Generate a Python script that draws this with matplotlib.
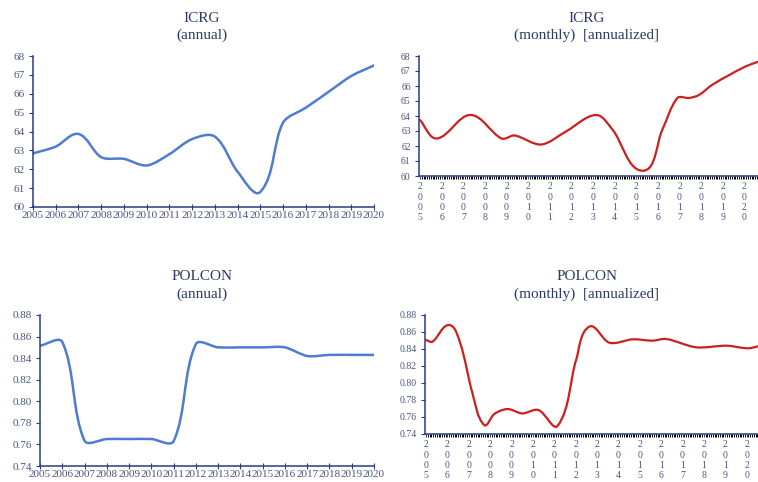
import numpy as np
import matplotlib
matplotlib.use("Agg")
import matplotlib.pyplot as plt
from matplotlib.path import Path
from matplotlib.patches import PathPatch
from matplotlib.ticker import MultipleLocator

plt.rcParams['font.family'] = ['Liberation Serif', 'DejaVu Serif']

# annual series
years = list(range(2005, 2021))
icrg_annual = [62.84, 63.2, 63.87, 62.64, 62.55, 62.2, 62.8, 63.6,
               63.73, 61.87, 60.8, 64.47, 65.26, 66.1, 66.94, 67.5]
polcon_annual = [0.8515, 0.855, 0.7635, 0.765, 0.765, 0.765, 0.763, 0.853,
                 0.850, 0.850, 0.850, 0.850, 0.842, 0.843, 0.843, 0.843]

# monthly (annualized) series, turning points in decimal years
icrg_m_t = [2005.0, 2005.77, 2007.33, 2008.77, 2009.38, 2010.6, 2011.75,
            2013.14, 2013.91, 2015.3, 2016.2, 2016.9, 2017.44, 2017.9,
            2018.5, 2019.3, 2020.05, 2020.6]
icrg_m_v = [63.73, 62.5, 64.07, 62.5, 62.7, 62.1, 62.97,
            64.07, 63.07, 60.35, 63.07, 65.2, 65.2, 65.4,
            66.07, 66.73, 67.3, 67.6]
polcon_m_t = [2005.0, 2005.3, 2006.08, 2006.6, 2007.17, 2007.72, 2008.19,
              2008.81, 2009.5, 2010.26, 2011.16, 2012.02, 2012.64, 2013.58,
              2014.67, 2015.6, 2016.24, 2017.64, 2019.05, 2020.06, 2020.6]
polcon_m_v = [0.8506, 0.8486, 0.8682, 0.8467, 0.788, 0.7506, 0.7635,
              0.7694, 0.7642, 0.7682, 0.7497, 0.827, 0.8663, 0.8474,
              0.8514, 0.8498, 0.8518, 0.842, 0.8439, 0.8408, 0.8435]

NAVY = '#2a3d7c'
TXT = '#2c3a66'
TICK = '#4a5580'
BLUE = '#4f7bd0'
RED = '#cc1f1f'

W, H = 758, 482


def smooth_path(x, y, sx, sy, k=0.3):
    # cubic bezier through the points; tangents are worked out in pixel
    # space and scaled by the chord length of each segment
    pts = np.column_stack([np.asarray(x) * sx, np.asarray(y) * sy]).astype(float)
    n = len(pts)
    tan = []
    for i in range(n):
        a = pts[max(i - 1, 0)]
        b = pts[min(i + 1, n - 1)]
        d = b - a
        tan.append(d / np.hypot(*d))
    verts = [pts[0]]
    codes = [Path.MOVETO]
    for i in range(n - 1):
        seg = np.hypot(*(pts[i + 1] - pts[i]))
        verts += [pts[i] + tan[i] * seg * k,
                  pts[i + 1] - tan[i + 1] * seg * k,
                  pts[i + 1]]
        codes += [Path.CURVE4] * 3
    verts = np.array(verts) / [sx, sy]
    return Path(verts, codes)


def style(ax):
    for s in ['top', 'right']:
        ax.spines[s].set_visible(False)
    for s in ['left', 'bottom']:
        ax.spines[s].set_color(NAVY)
        ax.spines[s].set_linewidth(1.1)
    ax.tick_params(colors=NAVY, labelcolor=TICK)


fig = plt.figure(figsize=(W / 100, H / 100), dpi=100)


def box(l, r, t, b):
    return [l / W, 1 - b / H, (r - l) / W, (b - t) / H]


def scales(ax, xlim, ylim):
    pos = ax.get_position()
    return (pos.width * W / (xlim[1] - xlim[0]),
            pos.height * H / (ylim[1] - ylim[0]))


ax1 = fig.add_axes(box(33, 374, 56, 207))
ax2 = fig.add_axes(box(419, 766, 56, 176))
ax3 = fig.add_axes(box(40, 374, 315, 466))
ax4 = fig.add_axes(box(425, 768, 315, 434))

# annual panels
for ax, vals, ylim, step, fmt in [(ax1, icrg_annual, (60, 68), 1, '{:.0f}'),
                                  (ax3, polcon_annual, (0.74, 0.88), 0.02, '{:.2f}')]:
    xlim = (2005, 2020)
    sx, sy = scales(ax, xlim, ylim)
    ax.add_patch(PathPatch(smooth_path(years, vals, sx, sy), fill=False,
                           edgecolor=BLUE, lw=1.8, capstyle='round'))
    ax.set_xlim(*xlim)
    ax.set_ylim(*ylim)
    ax.set_xticks(years)
    ax.set_xticklabels([str(y) for y in years], fontsize=8)
    ticks = np.arange(ylim[0], ylim[1] + step / 2, step)
    ax.set_yticks(ticks)
    ax.set_yticklabels([fmt.format(t) for t in ticks], fontsize=8)
    style(ax)
    ax.tick_params(axis='x', direction='inout', length=4, width=0.8, pad=1)
    ax.tick_params(axis='y', direction='out', length=3, width=0.8, pad=3)

# monthly panels
for ax, t, vals, ylim, step, fmt in [(ax2, icrg_m_t, icrg_m_v, (60, 68), 1, '{:.0f}'),
                                     (ax4, polcon_m_t, polcon_m_v, (0.74, 0.88), 0.02, '{:.2f}')]:
    xlim = (2004.95, 2021)
    sx, sy = scales(ax, xlim, ylim)
    ax.add_patch(PathPatch(smooth_path(t, vals, sx, sy), fill=False,
                           edgecolor=RED, lw=1.6, capstyle='round'))
    ax.set_xlim(*xlim)
    ax.set_ylim(*ylim)
    ax.set_xticks(years)
    ax.set_xticklabels(['\n'.join(str(y)) for y in years], fontsize=7,
                       linespacing=1.2, va='top')
    ax.xaxis.set_minor_locator(MultipleLocator(1 / 12))
    ticks = np.arange(ylim[0], ylim[1] + step / 2, step)
    ax.set_yticks(ticks)
    ax.set_yticklabels([fmt.format(t) for t in ticks], fontsize=7)
    style(ax)
    ax.tick_params(axis='x', which='both', direction='out', length=2.5,
                   width=0.7, pad=2)
    ax.tick_params(axis='y', direction='out', length=3, width=0.8, pad=3)

titles = [(202, 18, 'ICRG', '(annual)'),
          (587, 18, 'ICRG', '(monthly)  [annualized]'),
          (202, 277, 'POLCON', '(annual)'),
          (587, 277, 'POLCON', '(monthly)  [annualized]')]
for x, y, a, b in titles:
    fig.text(x / W, 1 - y / H, a, ha='center', va='center', fontsize=11, color=TXT)
    fig.text(x / W, 1 - (y + 17) / H, b, ha='center', va='center', fontsize=11, color=TXT)

fig.savefig('out.png', dpi=100)
